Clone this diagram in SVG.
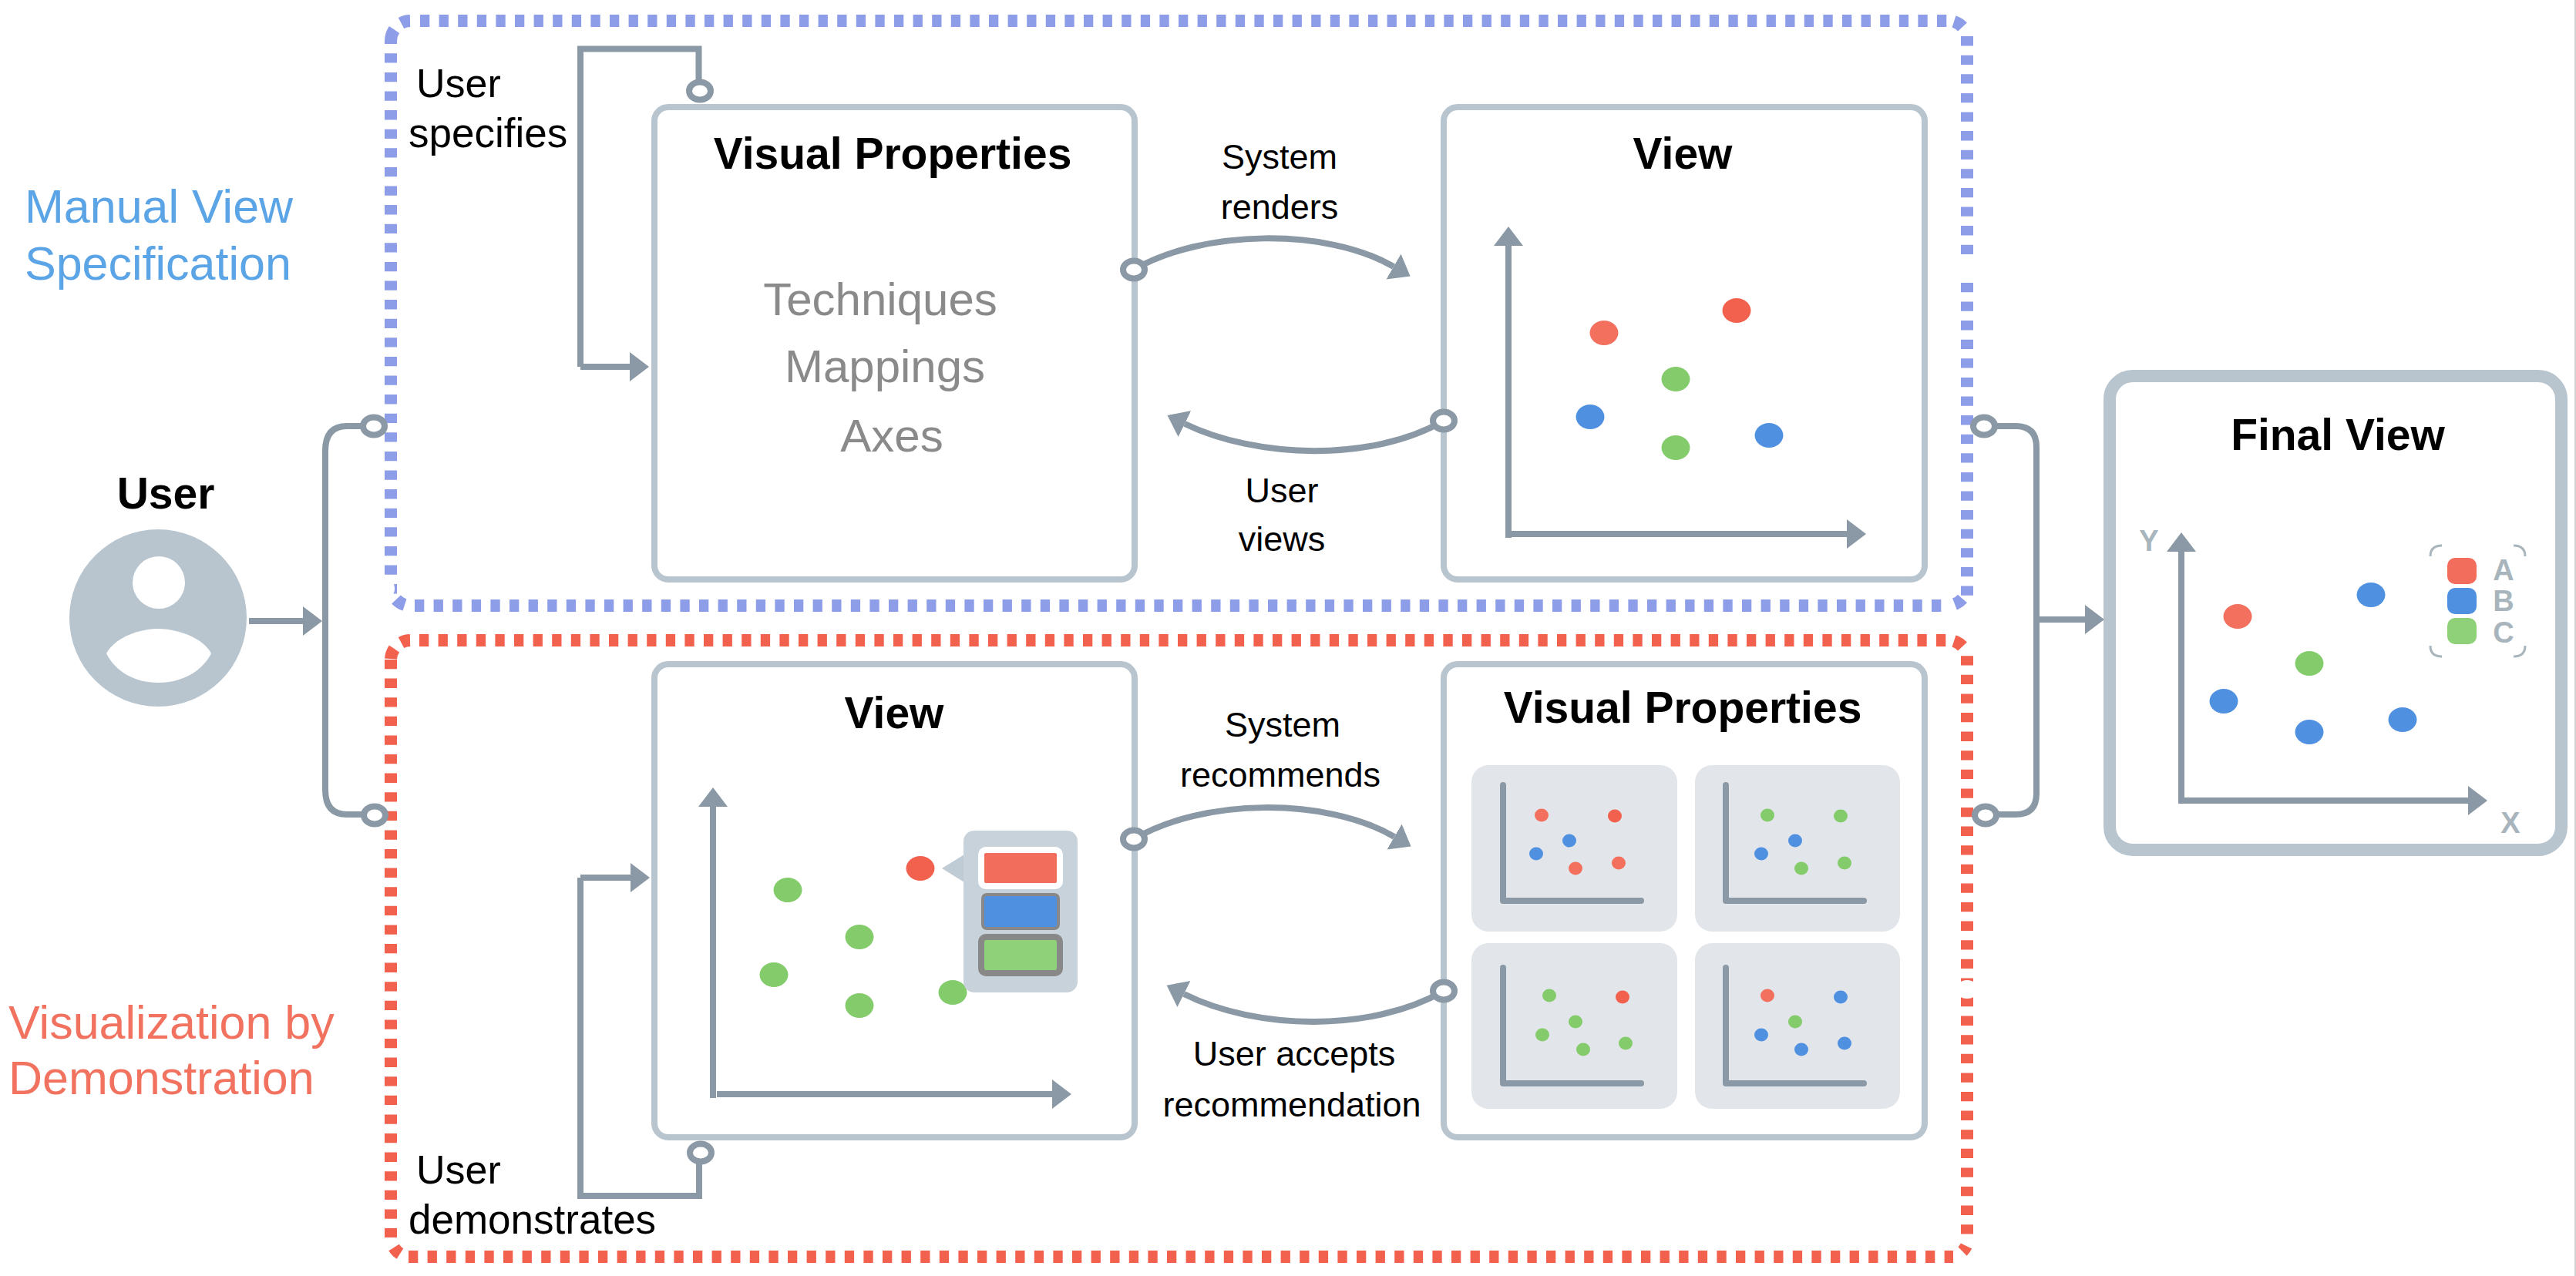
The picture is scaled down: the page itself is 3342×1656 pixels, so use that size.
<svg xmlns="http://www.w3.org/2000/svg" width="3342" height="1656" viewBox="0 0 3342 1656">
<style>
text{font-family:"Liberation Sans",Arial,Helvetica,sans-serif}
.t{font-size:57px;font-weight:700;fill:#000;text-anchor:middle}
.l{font-size:52px;fill:#000}
.l2{font-size:53px;fill:#000}
.c{font-size:45px;fill:#000;text-anchor:middle}
.g{font-size:60px;fill:#8a8a8a;text-anchor:middle}
.box{fill:#fff;stroke:#b8c5cf;stroke-width:8}
.wire{fill:none;stroke:#8a99a5;stroke-width:8}
.head{fill:none;stroke:#8a99a5;stroke-width:8;marker-end:url(#arrow)}
.ring{fill:#fff;stroke:#8a99a5;stroke-width:8}
.r{fill:#f2705d}.rd{fill:#f2604e}.b{fill:#4f91e0}.gr{fill:#83cb6b}
.panel{fill:#e2e5ea}
.ax{fill:none;stroke:#8a99a5;stroke-width:8;stroke-linecap:round;stroke-linejoin:round}
.lg{font-size:38px;font-weight:700;fill:#a9b5bc;text-anchor:middle}
.cn{fill:none;stroke:#a9b5bc;stroke-width:3}
.bd{fill:none;stroke:#8e9de8;stroke-width:16}
.rdb{fill:none;stroke:#f2604e;stroke-width:16}
.dash{stroke-dasharray:12.3 12.3}
</style>
<defs>
<marker id="arrow" markerUnits="userSpaceOnUse" markerWidth="26" markerHeight="40" refX="0" refY="19" orient="auto"><path d="M0 0L25 19L0 38Z" fill="#8a99a5"/></marker>
<ellipse id="d" rx="18.5" ry="16"/>
<ellipse id="s" rx="9" ry="8.5"/>
</defs>
<rect width="3342" height="1656" fill="#fff"/>
<rect x="3340" y="0" width="2" height="1656" fill="#d0d0d0"/>

<g id="manual-group">
<path class="bd dash" d="M507 69.3V770.5"/>
<path class="bd dash" d="M545 27H2526"/>
<path class="bd dash" d="M2552 47.1V773"/>
<path class="bd dash" d="M538 786H2519"/>
<path class="bd" d="M507 57V53A26 26 0 0 1 511.5 38.5"/>
<path class="bd" d="M520.5 30A26 26 0 0 1 532 27"/>
<path class="bd" d="M2535 28A26 26 0 0 1 2546 35"/>
<path class="bd" d="M2546 777A26 26 0 0 1 2536 784"/>
<path class="bd" d="M514 778A26 26 0 0 0 525 785"/>
<ellipse cx="499" cy="764" rx="13" ry="14" fill="#fff"/>
<ellipse cx="2552" cy="348" rx="14" ry="13" fill="#fff"/>
<text x="32" y="289" font-size="61" fill="#5ba4e6">Manual View</text>
<text x="32" y="363" font-size="61" fill="#5ba4e6">Specification</text>
</g>
<g id="demo-group">
<path class="rdb dash" d="M507 856V1606"/>
<path class="rdb dash" d="M544 831H2525"/>
<path class="rdb dash" d="M2552 851.2V1602"/>
<path class="rdb dash" d="M530 1631H2534"/>
<path class="rdb" d="M507 855A26 26 0 0 1 511.5 842"/>
<path class="rdb" d="M520.5 834A26 26 0 0 1 532 831"/>
<path class="rdb" d="M2535 832A26 26 0 0 1 2546 839"/>
<path class="rdb" d="M2551 1617A26 26 0 0 1 2546 1624"/>
<path class="rdb" d="M511 1619A26 26 0 0 0 519 1627"/>
<ellipse cx="2552" cy="1284" rx="15" ry="12" fill="#fff"/>
<text x="11" y="1348" font-size="61" fill="#f27260">Visualization by</text>
<text x="11" y="1420" font-size="61" fill="#f27260">Demonstration</text>
</g>

<g id="user">
<circle cx="205" cy="802" r="115" fill="#b8c5cf"/>
<circle cx="206" cy="756" r="34" fill="#fff"/>
<path d="M138 848C150 826 183 816 205 816C228 816 262 826 274 848C262 872 235 886 205 886C175 886 150 872 138 848Z" fill="#fff"/>
<text class="t" x="215" y="660">User</text>
</g>

<g id="vp-top">
<rect class="box" x="849" y="139" width="623" height="613" rx="18"/>
<text class="t" x="1158" y="219">Visual Properties</text>
<text class="g" x="1142" y="409">Techniques</text>
<text class="g" x="1148" y="496">Mappings</text>
<text class="g" x="1157" y="586">Axes</text>
</g>
<g id="view-top">
<rect class="box" x="1873" y="139" width="624" height="613" rx="18"/>
<text class="t" x="2183" y="219">View</text>
<path class="head" d="M1957 698V319"/>
<path class="head" d="M1961 693H2396"/>
<use href="#d" class="r" x="2081" y="432"/><use href="#d" class="rd" x="2253" y="403"/><use href="#d" class="gr" x="2174" y="492"/><use href="#d" class="b" x="2063" y="541"/><use href="#d" class="gr" x="2174" y="581"/><use href="#d" class="b" x="2295" y="565"/>
</g>

<g id="view-bottom">
<rect class="box" x="849" y="862" width="623" height="614" rx="18"/>
<text class="t" x="1160" y="945">View</text>
<path class="head" d="M925 1425V1047"/>
<path class="head" d="M930 1420H1365"/>
<use href="#d" class="gr" x="1022" y="1155"/><use href="#d" class="gr" x="1115" y="1216"/><use href="#d" class="gr" x="1004" y="1265"/><use href="#d" class="gr" x="1115" y="1305"/><use href="#d" class="gr" x="1236" y="1288"/><use href="#d" class="rd" x="1194" y="1127"/>
<path d="M1222 1127L1251 1109V1145Z" fill="#bfccd6"/>
<rect x="1250" y="1078" width="148" height="210" rx="14" fill="#c8d2db"/>
<rect x="1273" y="1103" width="102" height="47" rx="6" fill="#f26d5b" stroke="#fff" stroke-width="8"/>
<rect x="1275" y="1161" width="98" height="44" rx="5" fill="#4f91e0" stroke="#888" stroke-width="4"/>
<rect x="1273" y="1216" width="102" height="47" rx="6" fill="#8fd178" stroke="#888" stroke-width="8"/>
</g>

<g id="vp-bottom">
<rect class="box" x="1873" y="862" width="624" height="614" rx="18"/>
<text class="t" x="2183" y="938">Visual Properties</text>
<rect class="panel" x="1909" y="993" width="267" height="216" rx="22"/>
<rect class="panel" x="2199" y="993" width="266" height="216" rx="22"/>
<rect class="panel" x="1909" y="1224" width="267" height="215" rx="22"/>
<rect class="panel" x="2199" y="1224" width="266" height="215" rx="22"/>
<path class="ax" d="M1950 1019V1169H2129"/><path class="ax" d="M2239 1019V1169H2418"/>
<path class="ax" d="M1950 1256V1406H2129"/><path class="ax" d="M2239 1256V1406H2418"/>
<use href="#s" class="r" x="2000" y="1058"/><use href="#s" class="rd" x="2095" y="1059"/><use href="#s" class="b" x="2036" y="1091"/><use href="#s" class="b" x="1993" y="1108"/><use href="#s" class="r" x="2044" y="1127"/><use href="#s" class="r" x="2100" y="1120"/>
<use href="#s" class="gr" x="2293" y="1058"/><use href="#s" class="gr" x="2388" y="1059"/><use href="#s" class="b" x="2329" y="1091"/><use href="#s" class="b" x="2285" y="1108"/><use href="#s" class="gr" x="2337" y="1127"/><use href="#s" class="gr" x="2393" y="1120"/>
<use href="#s" class="gr" x="2010" y="1292"/><use href="#s" class="rd" x="2105" y="1294"/><use href="#s" class="gr" x="2044" y="1326"/><use href="#s" class="gr" x="2001" y="1343"/><use href="#s" class="gr" x="2054" y="1362"/><use href="#s" class="gr" x="2109" y="1354"/>
<use href="#s" class="r" x="2293" y="1292"/><use href="#s" class="b" x="2388" y="1294"/><use href="#s" class="gr" x="2329" y="1326"/><use href="#s" class="b" x="2285" y="1343"/><use href="#s" class="b" x="2337" y="1362"/><use href="#s" class="b" x="2393" y="1354"/>
</g>

<g id="final-view">
<rect x="2737" y="488" width="586" height="615" rx="30" fill="#fff" stroke="#b8c5cf" stroke-width="16"/>
<text class="t" x="3033" y="584">Final View</text>
<path class="head" d="M2830 1043V716"/>
<path class="head" d="M2826 1039H3202"/>
<text class="lg" x="2788" y="715">Y</text>
<text class="lg" x="3257" y="1081">X</text>
<use href="#d" class="r" x="2903" y="800"/><use href="#d" class="b" x="3076" y="772"/><use href="#d" class="gr" x="2996" y="861"/><use href="#d" class="b" x="2885" y="910"/><use href="#d" class="b" x="2996" y="950"/><use href="#d" class="b" x="3117" y="934"/>
<path class="cn" d="M3153 722Q3153 708 3168 708M3261 708Q3276 708 3276 722M3153 838Q3153 852 3168 852M3261 852Q3276 852 3276 838"/>
<rect x="3175" y="724" width="38" height="34" rx="10" fill="#f26d5b"/>
<rect x="3175" y="763" width="38" height="34" rx="10" fill="#4f91e0"/>
<rect x="3175" y="802" width="38" height="34" rx="10" fill="#8fd178"/>
<text class="lg" x="3248" y="753">A</text>
<text class="lg" x="3248" y="793">B</text>
<text class="lg" x="3248" y="834">C</text>
</g>

<g id="connectors">
<path class="wire" d="M906.5 105V63.5H753V476"/><path class="head" d="M753 476H817"/>
<path class="wire" d="M907 1510V1552H753V1139"/><path class="head" d="M753 1139H818"/>
<path class="head" d="M323 806H393"/>
<path class="wire" d="M485 553H450Q422 553 422 585V1025Q422 1057 450 1057H486"/>
<path class="wire" d="M2574 553H2615Q2642 553 2642 580V1030Q2642 1057 2615 1057H2576"/>
<path class="head" d="M2642 804H2705"/>
<path class="head" d="M1471 350C1560 298 1720 295 1808 346"/>
<path class="head" d="M1873 546C1780 600 1630 595 1537 550"/>
<path class="head" d="M1471 1089C1560 1036 1720 1034 1809 1086"/>
<path class="head" d="M1873 1286C1780 1340 1630 1337 1536 1290"/>
<ellipse class="ring" cx="908" cy="118" rx="14" ry="11.5"/>
<ellipse class="ring" cx="909" cy="1496" rx="14" ry="11.5"/>
<ellipse class="ring" cx="485" cy="553" rx="14" ry="11.5"/>
<ellipse class="ring" cx="486" cy="1058" rx="14" ry="11.5"/>
<ellipse class="ring" cx="2574" cy="553" rx="14" ry="11.5"/>
<ellipse class="ring" cx="2576" cy="1058" rx="14" ry="11.5"/>
<ellipse class="ring" cx="1471" cy="350" rx="14" ry="11.5"/>
<ellipse class="ring" cx="1873" cy="546" rx="14" ry="11.5"/>
<ellipse class="ring" cx="1471" cy="1089" rx="14" ry="11.5"/>
<ellipse class="ring" cx="1873" cy="1286" rx="14" ry="11.5"/>
</g>

<g id="connector-labels">
<text class="l" x="540" y="126">User</text>
<text class="l2" x="530" y="191">specifies</text>
<text class="l" x="540" y="1536">User</text>
<text class="l2" x="530" y="1601">demonstrates</text>
<text class="c" x="1660" y="219">System</text>
<text class="c" x="1660" y="284">renders</text>
<text class="c" x="1663" y="652">User</text>
<text class="c" x="1663" y="715">views</text>
<text class="c" x="1664" y="956">System</text>
<text class="c" x="1661" y="1021">recommends</text>
<text class="c" x="1679" y="1383">User accepts</text>
<text class="c" x="1676" y="1449">recommendation</text>
</g>
</svg>
